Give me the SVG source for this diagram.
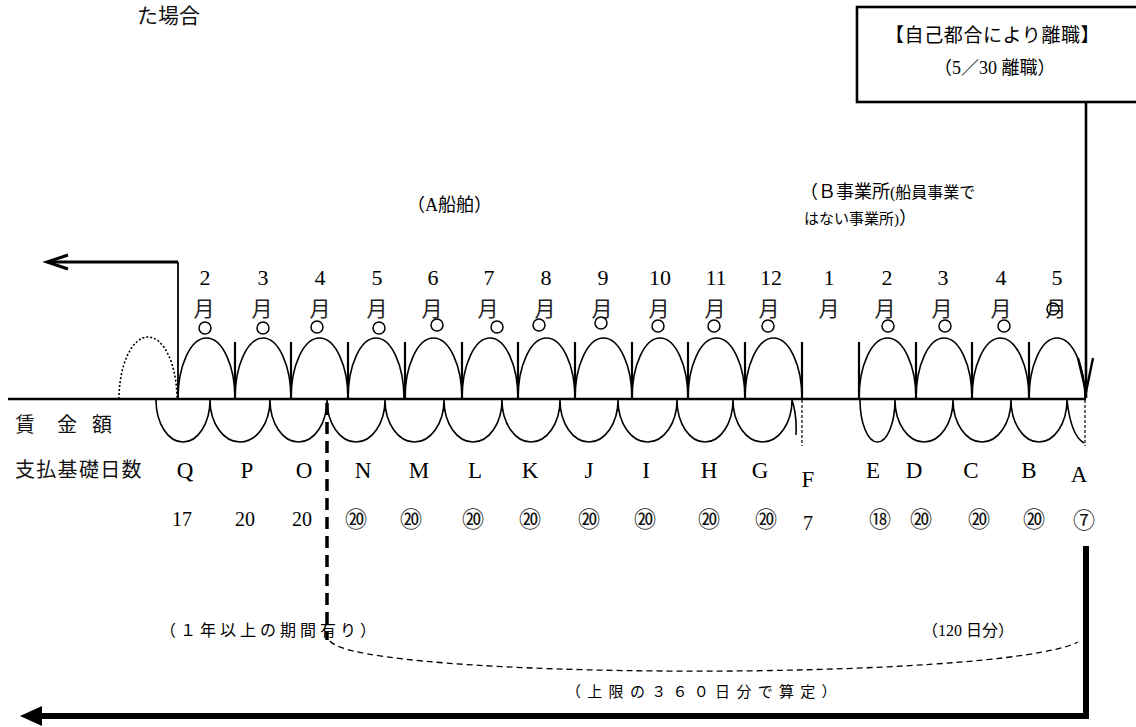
<svg xmlns="http://www.w3.org/2000/svg" width="1136" height="727" viewBox="0 0 1136 727">
<style>
.bg{fill:#fff}
.arc{stroke:#000;stroke-width:1.6;fill:none}
.tick{stroke:#000;stroke-width:2.2;fill:none}
.dot{stroke:#000;stroke-width:1.5;fill:#fff}
.ln{stroke:#000;fill:none}
.t{font-family:"Liberation Serif","Noto Sans CJK JP",serif;fill:#000}
.j{font-family:"Noto Sans CJK JP","Liberation Serif",sans-serif;fill:#111}
.mn{font-family:"Liberation Serif",serif;font-size:22px;text-anchor:middle}
.mj{font-family:"Noto Sans CJK JP",sans-serif;font-size:21px;text-anchor:middle;fill:#222}
.lt{font-family:"Liberation Serif",serif;font-size:23px;text-anchor:middle}
.nm{font-family:"Liberation Serif","Noto Sans CJK JP",serif;font-size:20px;text-anchor:middle}
.cn{font-family:"Noto Sans CJK JP",sans-serif;font-size:22px;text-anchor:middle;fill:#111}
</style>
<rect class="bg" x="0" y="0" width="1136" height="727"/>

<g id="title-fragment">
<text class="j" x="137" y="23" font-size="21">た場合</text>
</g>

<g id="resign-box">
<rect x="857" y="7" width="300" height="95" fill="#fff" stroke="#000" stroke-width="2.6"/>
<text class="t" x="885" y="42" font-size="19" letter-spacing="0.6">【自己都合により離職】</text>
<text class="t" x="934" y="74" font-size="18">（5／30 離職）</text>
</g>

<g id="employer-labels">
<text class="t" x="407" y="211" font-size="18">（A船舶）</text>
<text class="t" x="800" y="198" font-size="18">（Ｂ事業所<tspan font-size="16">(船員事業で</tspan></text>
<text class="t" x="804" y="224" font-size="15">はない事業所)<tspan font-size="18">）</tspan></text>
</g>

<g id="month-labels">
<text class="mn" x="205" y="285">2</text><text class="mj" x="204" y="316">月</text>
<text class="mn" x="263" y="285">3</text><text class="mj" x="262" y="316">月</text>
<text class="mn" x="320" y="285">4</text><text class="mj" x="320" y="316">月</text>
<text class="mn" x="377" y="285">5</text><text class="mj" x="377" y="316">月</text>
<text class="mn" x="433" y="285">6</text><text class="mj" x="432" y="316">月</text>
<text class="mn" x="489" y="285">7</text><text class="mj" x="488" y="316">月</text>
<text class="mn" x="546" y="285">8</text><text class="mj" x="545" y="316">月</text>
<text class="mn" x="603" y="285">9</text><text class="mj" x="602" y="316">月</text>
<text class="mn" x="660" y="285">10</text><text class="mj" x="659" y="316">月</text>
<text class="mn" x="716" y="285">11</text><text class="mj" x="715" y="316">月</text>
<text class="mn" x="771" y="285">12</text><text class="mj" x="769" y="316">月</text>
<text class="mn" x="829" y="285">1</text><text class="mj" x="829" y="316">月</text>
<text class="mn" x="887" y="285">2</text><text class="mj" x="885" y="316">月</text>
<text class="mn" x="943" y="285">3</text><text class="mj" x="942" y="316">月</text>
<text class="mn" x="1001" y="285">4</text><text class="mj" x="1001" y="316">月</text>
<text class="mn" x="1057" y="285">5</text><text class="mj" x="1056" y="316">月</text>
</g>

<g id="month-arcs">
<path class="arc" stroke-dasharray="2 2" d="M119 399 A29 62 0 0 1 177 399"/>
<path class="arc" d="M178 399 A28.5 61 0 0 1 235 399 M235 399 A28 61 0 0 1 291 399 M291 399 A28.5 61 0 0 1 348 399 M348 399 A28 61 0 0 1 404 399 M405 399 A28.5 61 0 0 1 462 399 M462 399 A28 61 0 0 1 518 399 M518 399 A28.5 61 0 0 1 575 399 M575 399 A28.5 61 0 0 1 632 399 M632 399 A28 61 0 0 1 688 399 M688 399 A28.5 61 0 0 1 745 399 M745 399 A28.5 61 0 0 1 802 399 M859 399 A28.5 61 0 0 1 916 399 M916 399 A28 61 0 0 1 972 399 M972 399 A28.5 61 0 0 1 1029 399 M1029 399 A28 61 0 0 1 1085 399"/>
<path class="tick" d="M235 342V399M291 342V399M348 342V399M405 342V399M462 342V399M518 342V399M575 342V399M632 342V399M688 342V399M745 342V399M802 342V399M859 342V399M916 342V399M972 342V399M1029 342V399"/>
<circle class="dot" cx="205" cy="328" r="6"/><circle class="dot" cx="263" cy="328" r="6"/>
<circle class="dot" cx="317" cy="327" r="6"/><circle class="dot" cx="379" cy="328" r="6"/>
<circle class="dot" cx="437" cy="325" r="6"/><circle class="dot" cx="497" cy="327" r="6"/>
<circle class="dot" cx="539" cy="325" r="6"/><circle class="dot" cx="601" cy="323" r="6"/>
<circle class="dot" cx="658" cy="326" r="6"/><circle class="dot" cx="714" cy="326" r="6"/>
<circle class="dot" cx="768" cy="326" r="6"/><circle class="dot" cx="888" cy="326" r="6"/>
<circle class="dot" cx="945" cy="326" r="6"/><circle class="dot" cx="1004" cy="326" r="6"/>
<circle cx="1053" cy="309" r="6" fill="none" stroke="#000" stroke-width="1.5"/>
</g>

<g id="timeline">
<line class="ln" x1="8" y1="399" x2="1086" y2="399" stroke-width="2.7"/>
</g>

<g id="wage-arcs">
<path class="arc" d="M156 400 A27 42 0 0 0 210 400 M210 400 A30 42 0 0 0 270 400 M270 400 A28.5 42 0 0 0 327 400 M327 400 A29 42 0 0 0 385 400 M385 400 A29.5 42 0 0 0 444 400 M444 400 A29 42 0 0 0 502 400 M502 400 A29 42 0 0 0 560 400 M560 400 A29 42 0 0 0 618 400 M618 400 A29.5 42 0 0 0 677 400 M677 400 A28 42 0 0 0 733 400 M733 400 A29.5 42 0 0 0 792 400 M792 400 Q797 415 796 435 M860 400 A17.5 42 0 0 0 895 400 M895 400 A29 42 0 0 0 953 400 M953 400 A29 42 0 0 0 1011 400 M1011 400 A28 42 0 0 0 1067 400 M1067 400 Q1071 436 1084 443"/>
<path class="ln" stroke-width="1.2" stroke-dasharray="3 2" d="M802 400V446M1085 400V446"/>
</g>

<g id="row-labels">
<text class="j" x="15" y="432" font-size="20">賃</text>
<text class="j" x="57" y="432" font-size="20">金</text>
<text class="j" x="92" y="432" font-size="20">額</text>
<text class="j" x="15" y="477" font-size="20" letter-spacing="1.3">支払基礎日数</text>
</g>

<g id="month-codes">
<text class="lt" x="185" y="478">Q</text><text class="lt" x="247" y="478">P</text>
<text class="lt" x="304" y="478">O</text><text class="lt" x="363" y="478">N</text>
<text class="lt" x="419" y="478">M</text><text class="lt" x="475" y="478">L</text>
<text class="lt" x="530" y="478">K</text><text class="lt" x="589" y="478">J</text>
<text class="lt" x="646" y="478">I</text><text class="lt" x="709" y="478">H</text>
<text class="lt" x="760" y="478">G</text><text class="lt" x="808" y="487">F</text>
<text class="lt" x="873" y="478">E</text><text class="lt" x="914" y="478">D</text>
<text class="lt" x="971" y="478">C</text><text class="lt" x="1029" y="478">B</text>
<text class="lt" x="1079" y="482">A</text>
</g>

<g id="day-counts">
<text class="nm" x="182" y="526">17</text><text class="nm" x="245" y="526">20</text>
<text class="nm" x="302" y="526">20</text><text class="cn" x="356" y="527">⑳</text>
<text class="cn" x="411" y="527">⑳</text><text class="cn" x="473" y="527">⑳</text>
<text class="cn" x="530" y="527">⑳</text><text class="cn" x="589" y="527">⑳</text>
<text class="cn" x="645" y="527">⑳</text><text class="cn" x="709" y="527">⑳</text>
<text class="cn" x="766" y="527">⑳</text><text class="nm" x="808" y="530">7</text>
<text class="cn" x="880" y="527">⑱</text><text class="cn" x="921" y="527">⑳</text>
<text class="cn" x="979" y="527">⑳</text><text class="cn" x="1034" y="527">⑳</text>
<text class="cn" x="1084" y="528" font-size="19">⑦</text>
</g>

<g id="period-labels">
<text class="t" x="160" y="636" font-size="16" letter-spacing="4">（１年以上の期間有り）</text>
<text class="t" x="922" y="636" font-size="16">（120 日分）</text>
<text class="t" x="566" y="697" font-size="15" letter-spacing="6.3">（上限の３６０日分で算定）</text>
</g>

<g id="connectors">
<path class="ln" stroke-width="1.8" d="M178 262V399"/>
<path class="ln" stroke-width="3" d="M178 262H48"/>
<path class="ln" stroke-width="3" d="M68 255L47 262L68 269"/>
<path class="ln" stroke-width="2.6" d="M1086 102V398"/>
<path class="ln" stroke-width="2.4" d="M1078 358L1086 392L1093 358"/>
<path class="ln" stroke-width="3.5" stroke-dasharray="12 7" d="M327 403V640"/>
<path class="ln" stroke-width="1.3" stroke-dasharray="6 4" d="M330 641C360 680 1000 682 1078 642"/>
<path class="ln" stroke-width="6" d="M1086 546V719"/>
<path class="ln" stroke-width="6" d="M1089 716H36"/>
<polygon points="20,716 42,706 42,726" fill="#000"/>
</g>
</svg>
